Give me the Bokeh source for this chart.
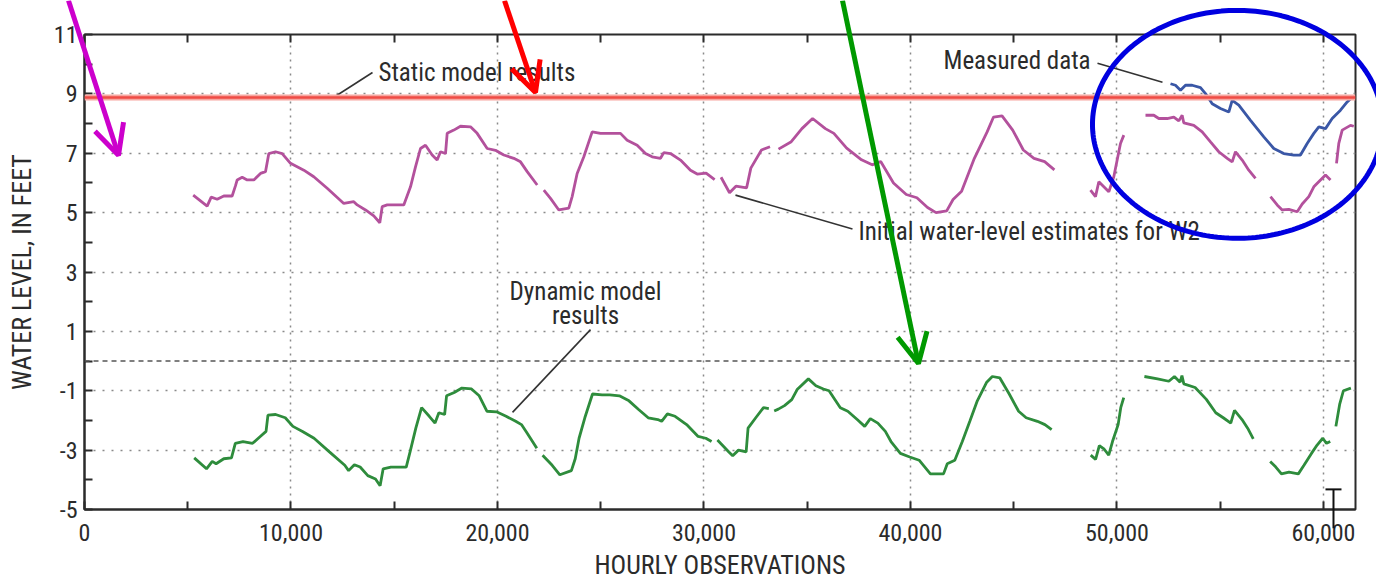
import numpy as np
from bokeh.plotting import figure
from bokeh.models import (Range1d, FixedTicker, LinearAxis, Span, Label, Arrow,
                          OpenHead, TeeHead, PolyAnnotation)
from bokeh.embed import file_html
from bokeh.resources import INLINE

nan = float("nan")

# Hourly observation index and water level (feet) of the initial estimates for W2
est_x = [5264, 5940, 6135, 6425, 6747, 7150, 7310, 7394, 7636, 7878, 8200, 8523, 8765,
         8926, 9250, 9572, 9976, 10620, 11104, 11752, 12557, 13041, 13206, 13608, 14010,
         14300, 14416, 14659, 15462, 15787, 16029, 16271, 16513, 16836, 17078, 17239,
         17482, 17563, 17885, 18208, 18692, 19015, 19501, 19903, 20305, 20789, 21114,
         21438, 21922, nan, 22243, 22567, 22969, 23453, 23615, 23857, 24180, 24585,
         24988, 25472, 25956, 26280, 26763, 27167, 27490, 27893, 28054, 28378, 28862,
         29346, 29670, 30103, 30515, nan, 30825, 31237, 31546, 32062, 32268, 32784,
         33196, nan, 33608, 34227, 34742, 35258, 35877, 36289, 36908, 37629, 38145,
         38557, 39176, 39795, 40310, 40825, 41237, 41753, 42062, 42475, 43093, 43712,
         44021, 44433, 44949, 45464, 45980, 46495, 46969, nan, 48717, 48959, 49120,
         49362, 49604, 49846, 50040, 50169, 50331, nan, 51380, 51782, 52024, 52430,
         52752, 52994, 53156, 53236, 53720, 54125, 54528, 54930, 55337, 55579, 55738,
         56063, 56382, 56707, nan, 57433, 57757, 58000, 58320, 58727, 58969, 59289,
         59531, 59855, 60097, 60339, nan, 60630, 60741, 60906, 61308, 61467]
est_y = [5.59, 5.22, 5.52, 5.45, 5.56, 5.56, 5.90, 6.10, 6.19, 6.10, 6.10, 6.32, 6.38,
         6.99, 7.05, 6.99, 6.66, 6.43, 6.21, 5.82, 5.31, 5.37, 5.26, 5.09, 4.89,
         4.66, 5.20, 5.26, 5.26, 5.87, 6.54, 7.16, 7.27, 6.94, 6.77, 7.05,
         6.99, 7.67, 7.78, 7.91, 7.89, 7.67, 7.16, 7.10, 6.94, 6.83, 6.71,
         6.38, 5.93, nan, 5.76, 5.48, 5.09, 5.15, 5.54, 6.32, 6.88, 7.72,
         7.67, 7.67, 7.67, 7.44, 7.27, 6.99, 6.88, 6.83, 7.02, 6.99, 6.77,
         6.43, 6.30, 6.33, 6.11, nan, 6.19, 5.67, 5.89, 5.83, 6.50, 7.11,
         7.22, nan, 7.14, 7.39, 7.83, 8.17, 7.83, 7.67, 7.17, 6.78, 6.61,
         6.72, 6.00, 5.61, 5.50, 5.17, 5.00, 5.06, 5.44, 5.72, 6.83, 7.72,
         8.22, 8.26, 7.78, 7.11, 6.83, 6.72, 6.44, nan, 5.76, 5.54, 6.04,
         5.87, 5.70, 6.21, 6.88, 7.33, 7.61, nan, 8.28, 8.28, 8.17, 8.17,
         8.22, 8.09, 8.28, 8.02, 7.94, 7.72, 7.38, 7.05, 6.83, 6.71, 7.05,
         6.77, 6.43, 6.15, nan, 5.54, 5.26, 5.09, 5.11, 5.03, 5.29, 5.54,
         5.87, 6.10, 6.27, 6.10, nan, 6.66, 7.33, 7.78, 7.94, 7.91]

# Dynamic model results
dyn_x = [5313, 5908, 6187, 6373, 6745, 7117, 7303, 7675, 8140, 8512, 8791, 8884, 9256,
         9721, 10093, 10558, 11116, 11860, 12604, 12790, 13069, 13348, 13720, 14092,
         14315, 14464, 14836, 15580, 15766, 16045, 16324, 16696, 16975, 17161, 17440,
         17533, 17905, 18277, 18742, 19114, 19486, 19951, 20416, 20881, 21160, 21439,
         21904, nan, 22183, 22648, 23020, 23578, 23764, 23950, 24229, 24601, 25066,
         25438, 25903, 26368, 26833, 27298, 27763, 27949, 28228, 28600, 29158, 29716,
         30088, 30367, nan, 30650, 31204, 31390, 31669, 32041, 32134, 32506, 32880,
         33140, nan, 33400, 33600, 33900, 34250, 34511, 35055, 35419, 35782, 36055,
         36601, 36964, 37419, 37782, 38055, 38418, 38782, 39055, 39509, 39964, 40418,
         40964, 41600, 41782, 42145, 42509, 42873, 43236, 43691, 43963, 44327, 44782,
         45236, 45600, 46145, 46509, 46836, nan, 48727, 48964, 49145, 49382, 49600,
         49782, 50055, 50182, 50327, nan, 51327, 51964, 52509, 52782, 53055, 53145,
         53237, 53782, 54327, 54782, 55145, 55509, 55691, 56055, 56327, 56600, nan,
         57418, 57691, 57964, 58327, 58782, 59054, 59418, 59691, 59964, 60145, 60327,
         nan, 60600, 60782, 60964, 61327]
dyn_y = [-3.26, -3.63, -3.38, -3.46, -3.29, -3.26, -2.77, -2.71, -2.77, -2.54, -2.37, -1.82, -1.80,
         -1.91, -2.20, -2.37, -2.60, -3.06, -3.51, -3.69, -3.49, -3.57, -3.86, -3.97,
         -4.20, -3.63, -3.57, -3.57, -3.06, -2.26, -1.57, -1.86, -2.09, -1.74, -1.80,
         -1.17, -1.06, -0.91, -0.94, -1.17, -1.69, -1.71, -1.86, -2.03, -2.14, -2.43,
         -2.94, nan, -3.17, -3.51, -3.83, -3.69, -3.29, -2.60, -1.91, -1.11, -1.14,
         -1.14, -1.17, -1.34, -1.63, -1.91, -1.97, -2.03, -1.78, -1.86, -2.14, -2.54,
         -2.60, -2.71, nan, -2.66, -3.06, -3.19, -3.00, -3.06, -2.26, -1.91, -1.57,
         -1.60, nan, -1.68, -1.62, -1.50, -1.30, -0.96, -0.60, -0.83, -0.94, -1.00,
         -1.57, -1.69, -1.97, -2.20, -1.94, -2.09, -2.37, -2.71, -3.11, -3.23, -3.34,
         -3.80, -3.80, -3.46, -3.34, -2.71, -2.03, -1.34, -0.71, -0.52, -0.57, -1.11,
         -1.69, -1.91, -2.03, -2.14, -2.31, nan, -3.17, -3.31, -2.85, -2.97, -3.17,
         -2.71, -2.14, -1.57, -1.23, nan, -0.52, -0.60, -0.68, -0.52, -0.71, -0.49,
         -0.77, -0.89, -1.29, -1.74, -1.91, -2.09, -1.66, -1.97, -2.26, -2.62, nan,
         -3.38, -3.57, -3.80, -3.74, -3.80, -3.51, -3.11, -2.83, -2.60, -2.77, -2.71,
         nan, -2.20, -1.46, -1.00, -0.91]

# Measured data
meas_x = [52591, 52833, 53075, 53317, 53640, 54044, 54286, 54610, 55012, 55414, 55579,
          55898, 56465, 57110, 57594, 58078, 58562, 58886, 59210, 59531, 59774, 60097,
          60420, 60823, 61147, 61389]
meas_y = [9.34, 9.29, 9.12, 9.29, 9.29, 9.21, 9.01, 8.67, 8.51, 8.39, 8.78,
          8.62, 8.11, 7.55, 7.16, 6.99, 6.94, 6.94, 7.33, 7.67, 7.89, 7.83,
          8.17, 8.45, 8.73, 8.89]

# Static model results (constant level, feet)
static_level = 8.88

# Axes
x_ticks = [0, 10000, 20000, 30000, 40000, 50000, 60000]
x_tick_labels = ["0", "10,000", "20,000", "30,000", "40,000", "50,000", "60,000"]
x_minor = [5000, 15000, 25000, 35000, 45000, 55000]
y_ticks = [-5, -3, -1, 1, 3, 5, 7, 9, 11]
y_tick_labels = ["-5", "-3", "-1", "1", "3", "5", "7", "9", "11"]
y_minor = [-4, -2, 0, 2, 4, 6, 8, 10]
x_min, x_max = 0, 61550
y_min, y_max = -5, 11

# Callout leaders (x0, y0, x1, y1) and labels
leader_static = (12155, 8.92, 13947, 9.72)
leader_measured = (49056, 10.03, 52203, 9.39)
leader_initial = (31525, 5.59, 37191, 4.45)
leader_dynamic = (24504, 1.06, 20727, -1.73)

# Highlight arrows (x_start, y_start, x_end, y_end) and the circled region
arrow_magenta = (-775, 12.14, 1646, 6.94)
arrow_red = (20339, 12.14, 21840, 9.05)
arrow_green = (36707, 12.14, 40387, -0.06)
ring_center = (55835, 7.98)
ring_radii = (7022, 3.83)
# Scale bar near the end of the record
bar = (60484, -5.6, 60484, -4.29)

FONT = "Roboto Condensed, Liberation Sans Narrow, DejaVu Sans Condensed, Arial Narrow, sans-serif"
INK = "#2b2b2b"

W, H = 1376, 582
B_LEFT, B_RIGHT, B_TOP, B_BOTTOM = 84, 21, 34, 72

p = figure(width=W, height=H, x_range=Range1d(x_min, x_max), y_range=Range1d(y_min, y_max),
           output_backend="svg", toolbar_location=None,
           min_border_left=B_LEFT, min_border_right=B_RIGHT,
           min_border_top=B_TOP, min_border_bottom=B_BOTTOM,
           background_fill_color="white", border_fill_color="white",
           outline_line_color=INK, outline_line_width=2)

xa = p.xaxis[0]
xa.ticker = FixedTicker(ticks=x_ticks, minor_ticks=x_minor)
xa.major_label_overrides = {t: s for t, s in zip(x_ticks, x_tick_labels)}
xa.axis_label = "HOURLY OBSERVATIONS"
ya = p.yaxis[0]
ya.ticker = FixedTicker(ticks=y_ticks, minor_ticks=y_minor)
ya.major_label_overrides = {t: s for t, s in zip(y_ticks, y_tick_labels)}
ya.axis_label = "WATER LEVEL, IN FEET"
for ax in (xa, ya):
    ax.axis_line_color = INK
    ax.axis_line_width = 2
    ax.major_tick_in = 8
    ax.major_tick_out = 0
    ax.minor_tick_in = 8
    ax.minor_tick_out = 0
    ax.major_tick_line_color = INK
    ax.minor_tick_line_color = INK
    ax.major_tick_line_width = 2
    ax.minor_tick_line_width = 2
    ax.major_label_text_font = FONT
    ax.major_label_text_font_size = "24px"
    ax.major_label_text_color = INK
    ax.axis_label_text_font = FONT
    ax.axis_label_text_font_size = "26px"
    ax.axis_label_text_font_style = "normal"
    ax.axis_label_text_color = INK
xa.major_label_standoff = 14
xa.axis_label_standoff = 6
ya.major_label_standoff = 7
ya.axis_label_standoff = 14

# inward ticks along the top edge (unlabelled)
top = LinearAxis(ticker=FixedTicker(ticks=[], minor_ticks=sorted(x_ticks + x_minor)),
                 axis_line_color=None, minor_tick_in=8, minor_tick_out=0,
                 minor_tick_line_color=INK, minor_tick_line_width=2)
p.add_layout(top, "above")

# grid
p.xgrid.ticker = FixedTicker(ticks=x_ticks[1:])
p.xgrid.grid_line_color = "#8a8a8a"
p.xgrid.grid_line_dash = "2 5"
p.xgrid.grid_line_width = 1.5
p.ygrid.ticker = FixedTicker(ticks=y_ticks[1:-1])
p.ygrid.grid_line_color = "#8a8a8a"
p.ygrid.grid_line_dash = "2 7"
p.ygrid.grid_line_width = 1.5
p.add_layout(Span(location=0, dimension="width", line_color="#555555",
                  line_dash="5 4", line_width=1.5))

# series
p.add_layout(Span(location=static_level, dimension="width", line_color="#f7a6a0",
                  line_width=6))
p.add_layout(Span(location=static_level, dimension="width", line_color="#ef4b45",
                  line_width=2.5))
p.line(est_x, est_y, line_color="#b3519c", line_width=2.8)
p.line(dyn_x, dyn_y, line_color="#2e8c3c", line_width=2.8)
p.line(meas_x, meas_y, line_color="#3a57a6", line_width=2.8)

# callouts
for x0, y0, x1, y1 in (leader_static, leader_measured, leader_initial, leader_dynamic):
    p.segment(x0, y0, x1, y1, line_color="#333333", line_width=1.6)


def note(text, x, y, align="left"):
    p.add_layout(Label(x=x, y=y, text=text, text_font=FONT, text_font_size="25px",
                       text_color=INK, text_align=align, text_baseline="middle"))


note("Static model results", 14237, 9.72)
note("Measured data", 41598, 10.13)
note("Initial water-level estimates for W2", 37482, 4.35)
note("Dynamic model", 24262, 2.34, "center")
note("results", 24262, 1.53, "center")

# Transparent layer over the whole page, on the same data scale, so that the
# highlight marks can run past the plot frame.
fw = W - B_LEFT - B_RIGHT
fh = H - B_TOP - B_BOTTOM
ux = (x_max - x_min) / fw
uy = (y_max - y_min) / fh
ov = figure(width=W, height=H,
            x_range=Range1d(x_min - B_LEFT * ux, x_max + B_RIGHT * ux),
            y_range=Range1d(y_min - B_BOTTOM * uy, y_max + B_TOP * uy),
            x_axis_type=None, y_axis_type=None, min_border=0,
            min_border_left=0, min_border_right=0, min_border_top=0, min_border_bottom=0,
            output_backend="svg", toolbar_location=None,
            background_fill_color=None, border_fill_color=None, outline_line_color=None,
            styles={"position": "absolute", "top": "0px", "left": "0px", "z-index": "10"})
ov.grid.visible = False

ov.add_layout(Arrow(x_start=bar[0], y_start=bar[1], x_end=bar[2], y_end=bar[3],
                    line_color="#111111", line_width=2,
                    end=TeeHead(size=16, line_color="#111111", line_width=2)))

for (x0, y0, x1, y1), col in ((arrow_magenta, "#cc00cc"), (arrow_red, "#ff0000"),
                               (arrow_green, "#009900")):
    ov.add_layout(Arrow(x_start=x0, y_start=y0, x_end=x1, y_end=y1,
                        line_color=col, line_width=5,
                        end=OpenHead(size=30, line_color=col, line_width=5)))

t = np.linspace(0, 2 * np.pi, 240)
ring_xs = ring_center[0] + ring_radii[0] * np.cos(t)
ring_ys = ring_center[1] + ring_radii[1] * np.sin(t)
ov.add_layout(PolyAnnotation(xs=list(ring_xs), ys=list(ring_ys), fill_alpha=0,
                             line_color="#0000e0", line_width=5, line_alpha=1))

open("out.html", "w").write(file_html([p, ov], INLINE))
